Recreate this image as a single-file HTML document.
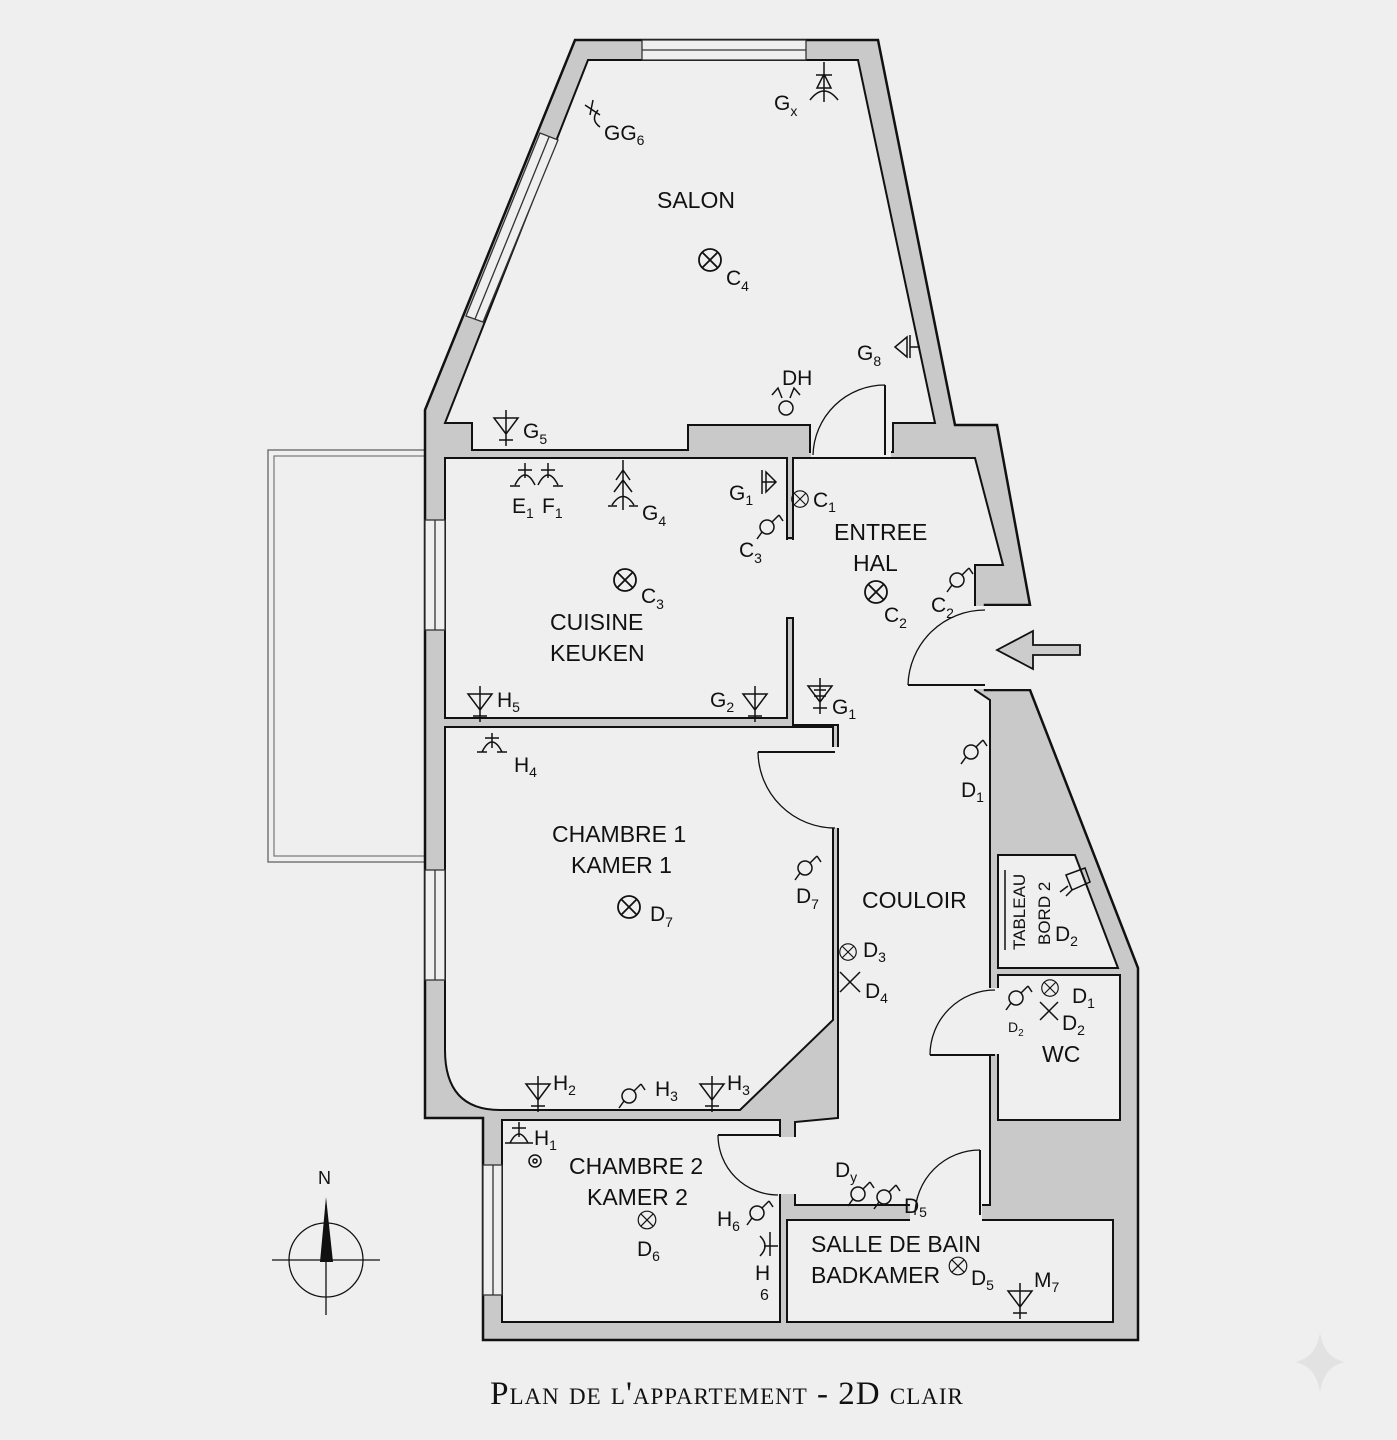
<!DOCTYPE html>
<html><head><meta charset="utf-8"><style>
html,body{margin:0;padding:0;background:#efefef;}
svg{display:block}
text{font-family:"Liberation Sans",sans-serif;fill:#111}
</style></head><body>
<svg width="1397" height="1440" viewBox="0 0 1397 1440" xmlns="http://www.w3.org/2000/svg">
<defs>
<g id="l"><circle cx="0" cy="0" r="11"/><line x1="-8" y1="-8" x2="8" y2="8"/><line x1="-8" y1="8" x2="8" y2="-8"/></g>
<g id="sw"><circle cx="0" cy="0" r="7"/><line x1="5" y1="-5" x2="12" y2="-12"/><line x1="12" y1="-12" x2="16" y2="-6"/><line x1="-5" y1="5" x2="-10" y2="12"/></g>
<g id="so"><path d="M-12,-6 L12,-6 L0,10 Z M0,-14 L0,22 M-7,16 L7,16"/></g>
</defs>
<rect width="1397" height="1440" fill="#efefef"/>
<rect x="268" y="450" width="157" height="412" fill="none" stroke="#777" stroke-width="1.5"/>
<rect x="274" y="456" width="151" height="400" fill="none" stroke="#777" stroke-width="1.2"/>
<polygon points="575,40 878,40 955,425 997,425 1030,605 985,605 985,690 1030,690 1138,968 1138,1340 483,1340 483,1118 425,1118 425,410" fill="#c9c9c9" stroke="#111" stroke-width="2.5"/>
<g fill="#efefef" stroke="#111" stroke-width="2">
<polygon points="588,60 858,60 935,423 893,423 893,452 810,452 810,425 688,425 688,450 472,450 472,423 445,423"/>
<polygon points="793,458 975,458 1003,565 975,565 975,690 990,700 990,1205 795,1205 795,1122 838,1118 838,725 793,725"/>
<polygon points="445,458 787,458 787,718 445,718"/>
<path d="M445,727 L833,727 L833,1020 L740,1110 L500,1110 Q445,1110 445,1050 Z"/>
<polygon points="502,1120 780,1120 780,1322 502,1322"/>
<polygon points="787,1220 1113,1220 1113,1322 787,1322"/>
<polygon points="998,855 1075,855 1118,968 998,968"/>
<polygon points="998,975 1120,975 1120,1120 998,1120"/>
</g>
<g fill="#efefef">
<rect x="811" y="424" width="80" height="33"/>
<rect x="786" y="540" width="9" height="77"/>
<rect x="970" y="606" width="62" height="83"/>
<rect x="830" y="747" width="10" height="81"/>
<rect x="778" y="1137" width="19" height="57"/>
<rect x="910" y="1200" width="72" height="22"/>
<rect x="988" y="988" width="12" height="66"/>
</g>
<g stroke="#111" stroke-width="2" fill="none">
<line x1="787" y1="458" x2="787" y2="538"/><line x1="793" y1="458" x2="793" y2="538"/><line x1="787" y1="538" x2="793" y2="538"/>
<line x1="787" y1="618" x2="787" y2="718"/><line x1="793" y1="618" x2="793" y2="718"/><line x1="787" y1="618" x2="793" y2="618"/>
<line x1="885" y1="385" x2="885" y2="455"/><path d="M885,385 A72,72 0 0 0 813,455" stroke-width="1.3"/>
<line x1="908" y1="685" x2="985" y2="685"/><path d="M908,685 A77,77 0 0 1 985,610" stroke-width="1.3"/>
<line x1="758" y1="752" x2="835" y2="752"/><path d="M758,752 A77,77 0 0 0 835,828" stroke-width="1.3"/>
<line x1="718" y1="1135" x2="780" y2="1135"/><path d="M718,1135 A60,60 0 0 0 778,1195" stroke-width="1.3"/>
<line x1="980" y1="1150" x2="980" y2="1215"/><path d="M980,1150 A65,65 0 0 0 915,1215" stroke-width="1.3"/>
<line x1="930" y1="1055" x2="995" y2="1055"/><path d="M930,1055 A65,65 0 0 1 995,990" stroke-width="1.3"/>
<line x1="1005" y1="870" x2="1005" y2="950" stroke-width="1.5"/>
</g>
<g fill="#efefef" stroke="#333" stroke-width="1.3">
<rect x="642" y="40" width="164" height="20"/><line x1="642" y1="50" x2="806" y2="50"/>
<polygon points="540,133 558,140 483,322 466,316"/><line x1="549" y1="137" x2="475" y2="319"/>
<rect x="425" y="520" width="20" height="110"/><line x1="435" y1="520" x2="435" y2="630"/>
<rect x="425" y="870" width="20" height="110"/><line x1="435" y1="870" x2="435" y2="980"/>
<rect x="483" y="1165" width="19" height="130"/><line x1="493" y1="1165" x2="493" y2="1295"/>
</g>
<polygon points="997,650 1033,631 1033,645 1080,645 1080,655 1033,655 1033,669" fill="#ccc" stroke="#111" stroke-width="1.8"/>
<g fill="none" stroke="#111" stroke-width="1.8">
<use href="#l" x="710" y="260"/><use href="#l" x="625" y="580"/><use href="#l" x="876" y="592"/><use href="#l" x="629" y="907"/>
</g>
<g fill="none" stroke="#111" stroke-width="1.5">
<g transform="translate(800,499) scale(0.75)"><use href="#l"/></g>
<g transform="translate(848,952) scale(0.75)"><use href="#l"/></g>
<g transform="translate(1050,988) scale(0.75)"><use href="#l"/></g>
<g transform="translate(647,1220) scale(0.8)"><use href="#l"/></g>
<g transform="translate(958,1266) scale(0.8)"><use href="#l"/></g>
<line x1="840" y1="972" x2="860" y2="992"/><line x1="840" y1="992" x2="860" y2="972"/>
<line x1="1040" y1="1002" x2="1058" y2="1020"/><line x1="1040" y1="1020" x2="1058" y2="1002"/>
<circle cx="535" cy="1161" r="6"/><circle cx="535" cy="1161" r="2"/>
<use href="#sw" x="767" y="527"/><use href="#sw" x="957" y="580"/><use href="#sw" x="971" y="752"/><use href="#sw" x="805" y="868"/>
<use href="#sw" x="629" y="1096"/><use href="#sw" x="757" y="1213"/><use href="#sw" x="858" y="1194"/><use href="#sw" x="884" y="1197"/><use href="#sw" x="1016" y="998"/>
<circle cx="786" cy="408" r="7"/><path d="M772,395 L778,388 L782,398 M800,395 L794,388 L790,398"/>
<use href="#so" x="506" y="424"/><use href="#so" x="820" y="692"/><use href="#so" x="480" y="700"/><use href="#so" x="755" y="700"/>
<use href="#so" x="538" y="1090"/><use href="#so" x="712" y="1090"/><use href="#so" x="1020" y="1297"/>
<path d="M814,690 L826,690 M814,696 L826,696"/>
<path d="M525,463 V478 M518,470 H532 M515,485 Q525,465 535,485 M510,486 H520 M548,463 V478 M541,470 H555 M538,485 Q548,465 558,485 M553,486 H563"/>
<path d="M623,460 V510 M616,480 L623,470 L630,480 M614,492 L623,480 L632,492 M612,505 Q623,488 634,505 M608,506 H617 M629,506 H638"/>
<path d="M762,470 V494 M762,482 H776 M766,472 L776,482 L766,492 Z"/>
<path d="M910,335 V358 M910,347 H920 M907,337 L895,347 L907,357 Z"/>
<path d="M824,62 V102 M816,75 H832 M817,88 L824,74 L831,88 Z M810,100 Q824,82 838,100"/>
<path d="M585,105 L600,115 M593,100 L590,115 M598,110 Q590,120 600,127"/>
<path d="M492,733 V748 M485,738 H499 M482,752 Q492,732 502,752 M477,752 H487 M497,752 H507"/>
<path d="M519,1122 V1137 M512,1128 H526 M510,1143 Q519,1125 528,1143 M505,1143 H533"/>
<path d="M770,1232 V1256 M764,1246 H778 M760,1236 Q770,1246 760,1256"/>
<path d="M1066,875 L1085,868 L1090,882 L1072,890 Z M1068,886 L1060,892 M1073,889 L1066,896"/>
</g>
<g font-size="23">
<text x="657" y="208">SALON</text>
<text x="834" y="540">ENTREE</text>
<text x="853" y="571">HAL</text>
<text x="550" y="630">CUISINE</text>
<text x="550" y="661">KEUKEN</text>
<text x="552" y="842">CHAMBRE 1</text>
<text x="571" y="873">KAMER 1</text>
<text x="862" y="908">COULOIR</text>
<text x="1042" y="1062">WC</text>
<text x="569" y="1174">CHAMBRE 2</text>
<text x="587" y="1205">KAMER 2</text>
<text x="811" y="1252">SALLE DE BAIN</text>
<text x="811" y="1283">BADKAMER</text>
<text x="1025" y="950" font-size="17" transform="rotate(-90 1025 950)">TABLEAU</text>
<text x="1050" y="945" font-size="17" transform="rotate(-90 1050 945)">BORD 2</text>
</g>
<g font-size="21">
<text x="604" y="140">GG<tspan font-size="14" dy="5">6</tspan></text>
<text x="774" y="110">G<tspan font-size="14" dy="6">x</tspan></text>
<text x="726" y="285">C<tspan font-size="14" dy="6">4</tspan></text>
<text x="857" y="360">G<tspan font-size="14" dy="6">8</tspan></text>
<text x="782" y="385">DH</text>
<text x="523" y="438">G<tspan font-size="14" dy="6">5</tspan></text>
<text x="512" y="513">E<tspan font-size="14" dy="5">1</tspan></text>
<text x="542" y="513">F<tspan font-size="14" dy="5">1</tspan></text>
<text x="642" y="520">G<tspan font-size="14" dy="6">4</tspan></text>
<text x="729" y="500">G<tspan font-size="14" dy="5">1</tspan></text>
<text x="813" y="507">C<tspan font-size="14" dy="5">1</tspan></text>
<text x="739" y="557">C<tspan font-size="14" dy="6">3</tspan></text>
<text x="641" y="603">C<tspan font-size="14" dy="6">3</tspan></text>
<text x="884" y="622">C<tspan font-size="14" dy="6">2</tspan></text>
<text x="931" y="612">C<tspan font-size="14" dy="6">2</tspan></text>
<text x="497" y="707">H<tspan font-size="14" dy="5">5</tspan></text>
<text x="710" y="707">G<tspan font-size="14" dy="5">2</tspan></text>
<text x="832" y="714">G<tspan font-size="14" dy="5">1</tspan></text>
<text x="514" y="772">H<tspan font-size="14" dy="5">4</tspan></text>
<text x="961" y="797">D<tspan font-size="14" dy="5">1</tspan></text>
<text x="796" y="903">D<tspan font-size="14" dy="6">7</tspan></text>
<text x="650" y="921">D<tspan font-size="14" dy="6">7</tspan></text>
<text x="863" y="957">D<tspan font-size="14" dy="5">3</tspan></text>
<text x="865" y="998">D<tspan font-size="14" dy="5">4</tspan></text>
<text x="1055" y="941">D<tspan font-size="14" dy="5">2</tspan></text>
<text x="1072" y="1003">D<tspan font-size="14" dy="5">1</tspan></text>
<text x="1062" y="1030">D<tspan font-size="14" dy="5">2</tspan></text>
<text x="1008" y="1032" font-size="14">D<tspan font-size="10" dy="4">2</tspan></text>
<text x="553" y="1090">H<tspan font-size="14" dy="5">2</tspan></text>
<text x="655" y="1096">H<tspan font-size="14" dy="5">3</tspan></text>
<text x="727" y="1090">H<tspan font-size="14" dy="5">3</tspan></text>
<text x="534" y="1145">H<tspan font-size="14" dy="5">1</tspan></text>
<text x="835" y="1177">D<tspan font-size="14" dy="5">y</tspan></text>
<text x="904" y="1213">D<tspan font-size="14" dy="4">5</tspan></text>
<text x="717" y="1226">H<tspan font-size="14" dy="5">6</tspan></text>
<text x="755" y="1280">H</text>
<text x="760" y="1300" font-size="16">6</text>
<text x="637" y="1256">D<tspan font-size="14" dy="5">6</tspan></text>
<text x="971" y="1285">D<tspan font-size="14" dy="5">5</tspan></text>
<text x="1034" y="1287">M<tspan font-size="14" dy="5">7</tspan></text>
</g>
<g stroke="#111" fill="none" stroke-width="1.3">
<circle cx="326" cy="1260" r="37"/>
<line x1="272" y1="1260" x2="380" y2="1260"/>
<line x1="326" y1="1205" x2="326" y2="1315"/>
</g>
<polygon points="326,1197 320,1262 333,1262" fill="#111"/>
<text x="318" y="1184" font-size="18">N</text>
<text x="727" y="1404" text-anchor="middle" font-size="33" style="font-family:'Liberation Serif',serif;font-variant:small-caps;letter-spacing:1px" fill="#222">Plan de l'appartement - 2D clair</text>
<path d="M1320,1333 Q1324,1358 1345,1362 Q1324,1366 1320,1392 Q1316,1366 1295,1362 Q1316,1358 1320,1333 Z" fill="#e2e2e2"/>
</svg>
</body></html>
